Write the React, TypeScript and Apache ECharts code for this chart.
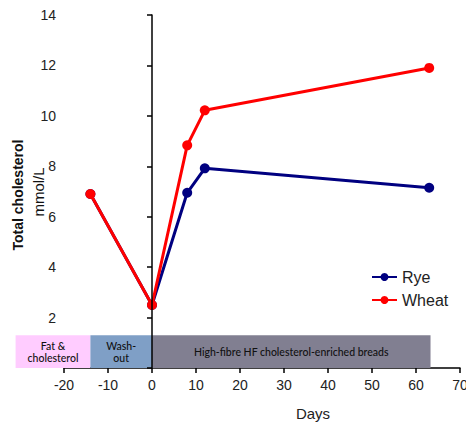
import React, { useEffect, useRef } from "react";
import * as echarts from "echarts";

const days = [-14, 0, 8, 12, 63];
const rye = [6.9, 2.5, 6.95, 7.92, 7.15];
const wheat = [6.9, 2.5, 8.83, 10.22, 11.9];
const yTicks = [0, 2, 4, 6, 8, 10, 12, 14];

const bandStarts = [-31, -14, 0];
const bandEnds = [-14, 0, 63.3];
const bandLabels = ["Fat &\ncholesterol", "Wash-\nout", "High-fibre HF cholesterol-enriched breads"];
const bandTop = 1.3;
const bandColors = ["#FFCCFF", "#7F9FC6", "#817F91"];

export default function App() {
  const ref = useRef<HTMLDivElement>(null);
  useEffect(() => {
    if (!ref.current) return;
    const chart = echarts.init(ref.current, undefined, { renderer: "svg" });
    const bandData = bandStarts.map((s, i) => [s, bandEnds[i], bandTop, i]);
    chart.setOption({
      animation: false,
      backgroundColor: "#ffffff",
      grid: { left: 64, right: 6, top: 15, bottom: 58, outerBoundsMode: "none", containLabel: false },
      legend: {
        data: ["Rye", "Wheat"],
        orient: "vertical",
        left: 366,
        top: 264,
        itemWidth: 25,
        itemHeight: 10,
        itemGap: 7,
        textStyle: { fontFamily: "Liberation Sans", fontSize: 16, color: "#222" },
      },
      xAxis: {
        type: "value",
        min: -20,
        max: 70,
        interval: 10,
        splitLine: { show: false },
        axisLine: { onZero: false, lineStyle: { color: "#000", width: 1.5 } },
        axisTick: { show: true, length: 5, lineStyle: { color: "#000", width: 1.5 } },
        axisLabel: { fontFamily: "Liberation Sans", fontSize: 14, color: "#222", margin: 10 },
      },
      yAxis: {
        type: "value",
        min: 0,
        max: 14,
        interval: 2,
        z: 10,
        splitLine: { show: false },
        axisLine: { onZero: true, lineStyle: { color: "#000", width: 1.5 } },
        axisTick: { show: true, length: 5, lineStyle: { color: "#000", width: 1.5 } },
        axisLabel: {
          fontFamily: "Liberation Sans",
          fontSize: 14,
          color: "#222",
          margin: 8,
          formatter: (v: number) => (v === 0 || !yTicks.includes(v) ? "" : String(v)),
        },
      },
      graphic: [
        {
          type: "text",
          x: 18,
          y: 195,
          rotation: Math.PI / 2,
          style: {
            text: "Total cholesterol",
            font: "bold 14px Liberation Sans",
            fill: "#111",
            align: "center",
            verticalAlign: "middle",
          },
        },
        {
          type: "text",
          x: 38,
          y: 192,
          rotation: Math.PI / 2,
          style: {
            text: "mmol/L",
            font: "15px Liberation Sans",
            fill: "#111",
            align: "center",
            verticalAlign: "middle",
          },
        },
        {
          type: "text",
          x: 313,
          y: 413,
          style: {
            text: "Days",
            font: "15px Liberation Sans",
            fill: "#222",
            align: "center",
            verticalAlign: "middle",
          },
        },
      ],
      series: [
        {
          type: "custom",
          name: "bands",
          z: 1,
          clip: false,
          encode: { x: [0, 1], y: 2 },
          data: bandData,
          renderItem: (params: any, api: any) => {
            const s = api.value(0);
            const e = api.value(1);
            const t = api.value(2);
            const idx = api.value(3);
            const p0 = api.coord([s, t]);
            const p1 = api.coord([e, 0]);
            return {
              type: "group",
              children: [
                {
                  type: "rect",
                  shape: { x: p0[0], y: p0[1], width: p1[0] - p0[0], height: p1[1] - p0[1] },
                  style: { fill: bandColors[idx] },
                },
                {
                  type: "text",
                  style: {
                    text: bandLabels[idx],
                    x: (p0[0] + p1[0]) / 2,
                    y: (p0[1] + p1[1]) / 2,
                    align: "center",
                    verticalAlign: "middle",
                    font: "500 10.5px Lato",
                    lineHeight: 12,
                    fill: "#111",
                  },
                },
              ],
            };
          },
        },
        {
          name: "Rye",
          type: "line",
          z: 3,
          data: days.map((d, i) => [d, rye[i]]),
          color: "#000080",
          lineStyle: { width: 3, color: "#000080" },
          symbol: "circle",
          symbolSize: 10,
          itemStyle: { color: "#000080" },
        },
        {
          name: "Wheat",
          type: "line",
          z: 4,
          data: days.map((d, i) => [d, wheat[i]]),
          color: "#FF0000",
          lineStyle: { width: 3, color: "#FF0000" },
          symbol: "circle",
          symbolSize: 10,
          itemStyle: { color: "#FF0000" },
        },
      ],
    });
    return () => chart.dispose();
  }, []);
  return (
    <div
      ref={ref}
      style={{ position: "fixed", left: 0, top: 0, width: 466, height: 426 }}
    />
  );
}
